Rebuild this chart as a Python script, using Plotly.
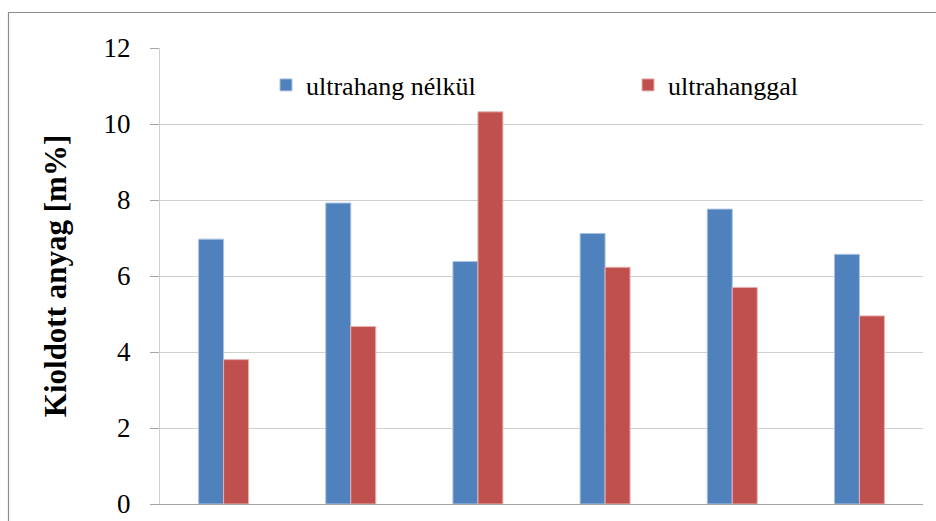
import plotly.graph_objects as go

# Dissolved material per sample, with and without ultrasound
samples = ["1", "2", "3", "4", "5", "6"]
without_us = [6.97, 7.92, 6.38, 7.12, 7.76, 6.57]
with_us = [3.80, 4.67, 10.32, 6.23, 5.70, 4.95]
series_names = ["ultrahang nélkül", "ultrahanggal"]
y_ticks = [0, 2, 4, 6, 8, 10, 12]
y_title = "Kioldott anyag [m%]"

SERIF = "Liberation Serif"
W, H = 936, 521
L, R, T, B = 160, 13, 48, 17
pw, ph = W - L - R, H - T - B

fig = go.Figure()
fig.add_trace(go.Bar(
    x=samples, y=without_us, name=series_names[0], legend="legend",
    marker=dict(color="#4f81bd", line=dict(color="#aac2e2", width=1)),
))
fig.add_trace(go.Bar(
    x=samples, y=with_us, name=series_names[1], legend="legend2",
    marker=dict(color="#c0504d", line=dict(color="#e8b0ae", width=1)),
))

# outer chart frame (continues past the right and bottom edges)
fig.add_shape(
    type="rect", xref="paper", yref="paper",
    x0=(8.5 - L) / pw, x1=1.2, y0=-0.2, y1=(H - B - 12.5) / ph,
    line=dict(color="#8c8c8c", width=1.2), fillcolor="rgba(0,0,0,0)", layer="below",
)

legend_style = dict(
    orientation="h", xanchor="left", yanchor="middle",
    y=(H - B - 85) / ph,
    font=dict(family=SERIF, size=26, color="black"),
    bgcolor="rgba(0,0,0,0)",
)

fig.update_layout(
    template="none",
    width=W, height=H,
    margin=dict(l=L, r=R, t=T, b=B, autoexpand=False),
    paper_bgcolor="white", plot_bgcolor="white",
    barmode="group", bargap=0.607, bargroupgap=0,
    font=dict(family=SERIF, color="black"),
    showlegend=True,
    legend=dict(x=(266 - L) / pw, **legend_style),
    legend2=dict(x=(628 - L) / pw, **legend_style),
    xaxis=dict(
        automargin=False,
        showticklabels=False, ticks="", showgrid=False,
        showline=True, linecolor="#a6a6a6", linewidth=1.2,
        zeroline=False,
    ),
    yaxis=dict(
        automargin=False,
        range=[0, 12], tickvals=y_ticks,
        ticks="outside", ticklen=9, tickcolor="#a6a6a6", tickwidth=1,
        ticklabelstandoff=14,
        tickfont=dict(family=SERIF, size=27, color="black"),
        showgrid=True, gridcolor="#d0d0d0", gridwidth=1.2,
        showline=True, linecolor="#d0d0d0", linewidth=1.2,
        zeroline=False,
        title=dict(text="<b>" + y_title + "</b>", font=dict(family=SERIF, size=31, color="black"), standoff=27),
    ),
)

fig.write_html("out.html")
